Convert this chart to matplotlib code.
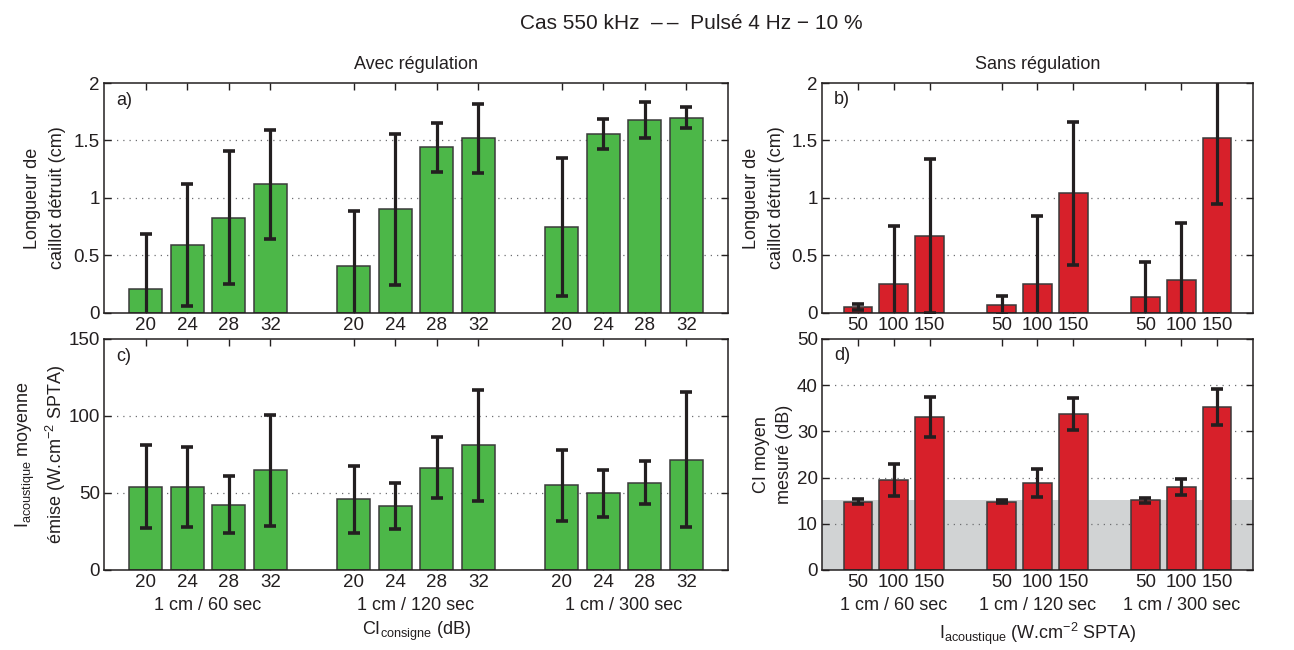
import matplotlib
matplotlib.use("Agg")
import matplotlib.pyplot as plt
import numpy as np


# =====================================================================================================================


GROUPS = ["1 cm / 60 sec", "1 cm / 120 sec", "1 cm / 300 sec"]
CI_CONSIGNE = ["20", "24", "28", "32"]
I_ACOUSTIQUE = ["50", "100", "150"]

# a) Avec regulation - longueur detruite (cm)
a_mean = [0.21, 0.59, 0.83, 1.12,  0.41, 0.90, 1.44, 1.52,  0.745, 1.56, 1.68, 1.70]
a_err = [0.48, 0.53, 0.575, 0.475,  0.475, 0.66, 0.21, 0.30,  0.60, 0.13, 0.155, 0.09]

# b) Sans regulation - longueur detruite (cm)
b_mean = [0.05, 0.255, 0.667,  0.067, 0.255, 1.04,  0.136, 0.284, 1.52]
b_err = [0.027, 0.505, 0.67,  0.084, 0.59, 0.62,  0.31, 0.50, 0.57]

# c) Avec regulation - intensite acoustique moyenne emise
c_mean = [54.0, 54.0, 42.4, 64.8,  45.8, 41.5, 66.3, 81.0,  54.9, 49.7, 56.8, 71.5]
c_err = [27.0, 26.0, 18.4, 36.0,  22.0, 15.0, 19.8, 36.0,  23.0, 15.5, 14.2, 43.8]

# d) Sans regulation - CI moyen mesure (dB)
d_mean = [14.8, 19.45, 33.1,  14.8, 18.75, 33.8,  15.05, 18.0, 35.3]
d_err = [0.5, 3.5, 4.3,  0.3, 3.0, 3.4,  0.5, 1.7, 3.95]
d_seuil = 15.2


# =====================================================================================================================


GREEN = "#4cb748"
RED = "#d7202a"
DARK = "#231f20"
GREY_ZONE = "#d1d3d4"
FS = 13
FS_TICK = 13.5

plt.rcParams["font.family"] = ["Liberation Sans", "DejaVu Sans"]
plt.rcParams["font.size"] = FS
plt.rcParams["mathtext.fontset"] = "custom"
plt.rcParams["mathtext.rm"] = "Liberation Sans"
plt.rcParams["mathtext.it"] = "Liberation Sans:italic"
plt.rcParams["text.color"] = DARK
plt.rcParams["axes.labelcolor"] = DARK
plt.rcParams["xtick.color"] = DARK
plt.rcParams["ytick.color"] = DARK


def positions(n_groups, n_per_group):
    pos = []
    for g in range(n_groups):
        start = 1 + g * (n_per_group + 1)
        pos.extend(range(start, start + n_per_group))
    return np.array(pos, dtype=float)


def style_axes(ax, xpos, xlabels, xlim, ylim, yticks, yticklabels):
    ax.set_xlim(*xlim)
    ax.set_ylim(*ylim)
    ax.set_xticks(xpos)
    ax.set_xticklabels(xlabels)
    ax.set_yticks(yticks)
    ax.set_yticklabels(yticklabels)
    ax.tick_params(direction="in", top=True, right=True, length=5, width=1, labelsize=FS_TICK, pad=3)
    for s in ax.spines.values():
        s.set_linewidth(1.1)
        s.set_color(DARK)
    for y in yticks[1:-1]:
        ax.axhline(y, color="#6d6e71", lw=0.9, ls=(0, (1, 4)), zorder=0.5)


def draw_bars(ax, xpos, means, errs, color):
    ax.bar(xpos, means, width=0.8, color=color, edgecolor="#3a3a3a", linewidth=1.1, zorder=2)
    ax.errorbar(xpos, means, yerr=errs, fmt="none", ecolor=DARK, elinewidth=2.3,
                capsize=4, capthick=2.6, zorder=3)


def group_labels(ax, xpos, n_per_group):
    for g, name in enumerate(GROUPS):
        xc = np.mean(xpos[g * n_per_group:(g + 1) * n_per_group])
        ax.text(xc, -0.175, name, transform=ax.get_xaxis_transform(), ha="center", va="baseline", fontsize=FS)


fig = plt.figure(figsize=(12.94, 6.5), dpi=100)
ax_a = fig.add_axes([0.0804, 0.5185, 0.4822, 0.3538])
ax_c = fig.add_axes([0.0804, 0.1231, 0.4822, 0.3554])
ax_b = fig.add_axes([0.6352, 0.5185, 0.3331, 0.3538])
ax_d = fig.add_axes([0.6352, 0.1231, 0.3331, 0.3554])

x_left = positions(3, 4)
x_right = positions(3, 3)
lab_left = CI_CONSIGNE * 3
lab_right = I_ACOUSTIQUE * 3

# a)
draw_bars(ax_a, x_left, a_mean, a_err, GREEN)
style_axes(ax_a, x_left, lab_left, (0, 15), (0, 2), [0, 0.5, 1, 1.5, 2], ["0", "0.5", "1", "1.5", "2"])
ax_a.set_ylabel("Longueur de\ncaillot détruit (cm)", fontsize=FS, linespacing=1.6)
ax_a.yaxis.set_label_coords(-0.061, 0.5)
ax_a.text(0.019, 0.925, "a)", transform=ax_a.transAxes, va="center", fontsize=FS)
ax_a.text(0.5, 1.06, "Avec régulation", transform=ax_a.transAxes, ha="center", va="baseline", fontsize=FS)

# b)
draw_bars(ax_b, x_right, b_mean, b_err, RED)
style_axes(ax_b, x_right, lab_right, (0, 12), (0, 2), [0, 0.5, 1, 1.5, 2], ["0", "0.5", "1", "1.5", "2"])
ax_b.set_ylabel("Longueur de\ncaillot détruit (cm)", fontsize=FS, linespacing=1.6)
ax_b.yaxis.set_label_coords(-0.086, 0.5)
ax_b.text(0.028, 0.93, "b)", transform=ax_b.transAxes, va="center", fontsize=FS)
ax_b.text(0.5, 1.06, "Sans régulation", transform=ax_b.transAxes, ha="center", va="baseline", fontsize=FS)

# c)
draw_bars(ax_c, x_left, c_mean, c_err, GREEN)
style_axes(ax_c, x_left, lab_left, (0, 15), (0, 150), [0, 50, 100, 150], ["0", "50", "100", "150"])
ax_c.set_ylabel("I$_{\\mathrm{acoustique}}$ moyenne\némise (W.cm$^{-2}$ SPTA)", fontsize=FS, linespacing=1.35)
ax_c.yaxis.set_label_coords(-0.058, 0.5)
ax_c.text(0.019, 0.925, "c)", transform=ax_c.transAxes, va="center", fontsize=FS)
group_labels(ax_c, x_left, 4)
ax_c.text(0.5, -0.281, "CI$_{\\mathrm{consigne}}$ (dB)", transform=ax_c.transAxes, ha="center", va="baseline",
          fontsize=FS)

# d)
ax_d.axhspan(0, d_seuil, color=GREY_ZONE, lw=0, zorder=0.2)
draw_bars(ax_d, x_right, d_mean, d_err, RED)
style_axes(ax_d, x_right, lab_right, (0, 12), (0, 50), [0, 10, 20, 30, 40, 50], ["0", "10", "20", "30", "40", "50"])
ax_d.set_ylabel("CI moyen\nmesuré (dB)", fontsize=FS, linespacing=1.5)
ax_d.yaxis.set_label_coords(-0.067, 0.5)
ax_d.text(0.028, 0.93, "d)", transform=ax_d.transAxes, va="center", fontsize=FS)
group_labels(ax_d, x_right, 3)
ax_d.text(0.5, -0.30, "I$_{\\mathrm{acoustique}}$ (W.cm$^{-2}$ SPTA)", transform=ax_d.transAxes, ha="center",
          va="baseline", fontsize=FS)

fig.text(0.534, 0.955, "Cas 550 kHz  \u2013\u2009\u2013  Pulsé 4 Hz \u2212 10 %", ha="center", va="baseline",
         fontsize=15)

plt.savefig("out.png", dpi=100)
